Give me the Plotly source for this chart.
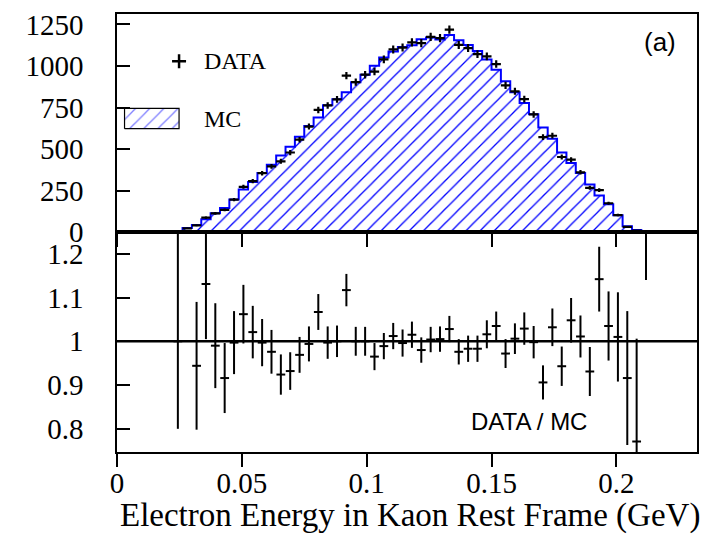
import numpy as np
import plotly.graph_objects as go

# ---------------- data ----------------
bin_width = 0.00375
first_bin = 6  # index of first filled bin (bins start at 0)

mc_counts = [8, 26, 44, 79, 115, 147, 198, 258, 302, 357,
             407, 462, 515, 575, 640, 690, 765, 800, 843, 903,
             948, 1002, 1052, 1087, 1115, 1125, 1161, 1171, 1160, 1186,
             1155, 1127, 1091, 1040, 978, 909, 843, 778, 710, 631,
             563, 480, 417, 357, 288, 222, 169, 103, 36, 14,
             5]

data_counts = [8, 24, 42, 89, 114, 135, 197, 274, 308, 356,
               397, 427, 480, 557, 636, 736, 763, 800, 942, 903,
               948, 967, 1040, 1100, 1111, 1142, 1138, 1176, 1168, 1219,
               1127, 1108, 1072, 1058, 1012, 884, 848, 801, 709, 572,
               581, 453, 437, 361, 268, 254, 175, 104, 33, 11,
               7]

data_err = [2, 3.5, 4.7, 6.8, 7.7, 8.4, 10, 12, 12.6, 13.6,
            14.3, 14.9, 15.8, 17, 18.2, 19.5, 19.9, 20.4, 22, 21.6,
            22.2, 22.4, 23.2, 23.9, 24, 24.5, 24.3, 24.7, 24.7, 25.1,
            24.2, 24, 23.6, 23.6, 22.9, 21.4, 21, 20.4, 19.2, 17.2,
            17.4, 15.3, 15, 13.7, 11.8, 11.5, 9.5, 7.3, 4.1, 2.4,
            1.9]

ratio = [1.0, None, 0.944, 1.131, 0.99, 0.916, 0.997, 1.062, 1.021, 0.997,
         0.976, 0.924, 0.932, 0.969, 0.994, 1.067, 0.997, 1.0, 1.117, 1.0,
         1.0, 0.965, 0.989, 1.012, 0.996, 1.015, 0.98, 1.004, 1.005, 1.028,
         0.976, 0.983, 0.983, 1.016, 1.035, 0.972, 1.006, 1.029, 0.998, 0.906,
         1.032, 0.943, 1.048, 1.011, 0.931, 1.142, 1.035, 1.010, 0.916, 0.771,
         1.35]

ratio_err_up = [0.30, 0, 0.146, 0.126, 0.097, 0.08, 0.072, 0.067, 0.06, 0.054,
                0.05, 0.046, 0.043, 0.041, 0.04, 0.041, 0.037, 0.036, 0.037, 0.033,
                0.033, 0.031, 0.03, 0.03, 0.031, 0.03, 0.029, 0.029, 0.029, 0.03,
                0.029, 0.03, 0.03, 0.032, 0.033, 0.033, 0.035, 0.037, 0.037, 0.039,
                0.043, 0.045, 0.051, 0.048, 0.056, 0.074, 0.079, 0.102, 0.153, 0.235,
                0.21]
ratio_err_down = [0.20] + ratio_err_up[1:]

x_tick_vals = [0, 0.05, 0.1, 0.15, 0.2]
top_tick_vals = [0, 250, 500, 750, 1000, 1250]
bot_tick_vals = [0.8, 0.9, 1.0, 1.1, 1.2]

x_title = "Electron Energy in Kaon Rest Frame (GeV)"

# ---------------- geometry helpers ----------------
n = len(mc_counts)
idx = np.arange(first_bin, first_bin + n)
centers = (idx + 0.5) * bin_width
left_edges = idx * bin_width
right_end = (first_bin + n) * bin_width

XMAX = 0.2323
SPLIT = 0.5015
BLUE = "#0000ff"
SERIF = "Liberation Serif"
SANS = "Liberation Sans"

fig = go.Figure()

# MC hatched histogram
fig.add_trace(go.Bar(
    x=centers, y=mc_counts, width=bin_width,
    marker=dict(color="white", line=dict(width=0),
                pattern=dict(shape="/", fgcolor=BLUE, bgcolor="white",
                             size=10, solidity=0.13, fillmode="replace")),
    xaxis="x", yaxis="y", showlegend=False, hoverinfo="skip"))

# MC outline (step)
step_x = np.concatenate([[left_edges[0]], left_edges, [right_end]])
step_y = np.concatenate([[0], mc_counts, [0]])
fig.add_trace(go.Scatter(
    x=step_x, y=step_y, mode="lines", line=dict(color=BLUE, width=2, shape="hv"),
    xaxis="x", yaxis="y", showlegend=False, hoverinfo="skip"))

# DATA crosses
fig.add_trace(go.Scatter(
    x=centers, y=data_counts, mode="markers",
    marker=dict(size=1, color="black"),
    error_y=dict(type="data", array=data_err, width=0, thickness=2.2, color="black"),
    error_x=dict(type="constant", value=bin_width * 0.5, width=0, thickness=2.2, color="black"),
    xaxis="x", yaxis="y", showlegend=False, hoverinfo="skip"))

# ratio crosses
fig.add_trace(go.Scatter(
    x=centers, y=ratio, mode="markers",
    marker=dict(size=1, color="black"),
    error_y=dict(type="data", array=ratio_err_up, arrayminus=ratio_err_down,
                 symmetric=False, width=0, thickness=2, color="black"),
    error_x=dict(type="constant", value=bin_width * 0.47, width=0, thickness=2, color="black"),
    xaxis="x2", yaxis="y2", showlegend=False, hoverinfo="skip"))

# legend glyphs on an invisible overlay frame covering the top panel
box_x = [0.013, 0.107, 0.107, 0.013, 0.013]
box_y = [0.475, 0.475, 0.568, 0.568, 0.475]
fig.add_trace(go.Scatter(
    x=box_x, y=box_y, mode="lines", fill="toself",
    fillcolor="white",
    fillpattern=dict(shape="/", fgcolor=BLUE, bgcolor="white", size=10, solidity=0.13),
    line=dict(color="black", width=1.2),
    xaxis="x3", yaxis="y3", showlegend=False, hoverinfo="skip"))
fig.add_trace(go.Scatter(
    x=[0.107], y=[0.784], mode="markers",
    marker=dict(symbol="cross-thin", size=10, line=dict(width=2.5, color="black")),
    xaxis="x3", yaxis="y3", showlegend=False, hoverinfo="skip"))

axis_common = dict(showgrid=False, zeroline=False, showline=True, linecolor="black",
                   linewidth=1.5, mirror=True, tickcolor="black", tickwidth=1.5,
                   ticklen=13)
tickfont = dict(family=SERIF, size=29, color="black")

fig.update_layout(
    width=710, height=537,
    margin=dict(l=117, r=13, t=9, b=85),
    paper_bgcolor="white", plot_bgcolor="rgba(0,0,0,0)",
    bargap=0,
    xaxis=dict(domain=[0, 1], anchor="y", range=[0, XMAX], tickvals=x_tick_vals,
               ticks="outside", showticklabels=False, **axis_common),
    yaxis=dict(domain=[SPLIT, 1], anchor="x", range=[0, 1313], tickvals=top_tick_vals,
               ticks="inside", tickfont=tickfont, ticklabelstandoff=26, **axis_common),
    xaxis2=dict(domain=[0, 1], anchor="y2", range=[0, XMAX], tickvals=x_tick_vals,
                ticktext=["0", "0.05", "0.1", "0.15", "0.2"],
                ticks="outside", tickfont=tickfont, ticklabelstandoff=-9, **axis_common),
    yaxis2=dict(domain=[0, SPLIT], anchor="x2", range=[0.747, 1.249], tickvals=bot_tick_vals,
                ticktext=["0.8", "0.9", "1", "1.1", "1.2"],
                ticks="inside", tickfont=tickfont, ticklabelstandoff=26, **axis_common),
    xaxis3=dict(domain=[0, 1], anchor="y3", range=[0, 1], visible=False, fixedrange=True),
    yaxis3=dict(domain=[SPLIT, 1], anchor="x3", range=[0, 1], visible=False, fixedrange=True),
    shapes=[
        dict(type="line", xref="x domain", yref="y", x0=0, x1=1, y0=0, y1=0,
             line=dict(color="black", width=2.5)),
        dict(type="line", xref="x2 domain", yref="y2", x0=0, x1=1, y0=1, y1=1,
             line=dict(color="black", width=2.5)),
    ],
    annotations=[
        dict(text="DATA", xref="x3", yref="y3", x=0.1466, y=0.784, xanchor="left",
             yanchor="middle", showarrow=False, font=dict(family=SERIF, size=24, color="black")),
        dict(text="MC", xref="x3", yref="y3", x=0.1466, y=0.521, xanchor="left",
             yanchor="middle", showarrow=False, font=dict(family=SERIF, size=24, color="black")),
        dict(text="(a)", xref="x3", yref="y3", x=0.936, y=0.872, xanchor="center",
             yanchor="middle", showarrow=False, font=dict(family=SANS, size=26, color="black")),
        dict(text="DATA / MC", xref="x2 domain", yref="y2 domain", x=0.710, y=0.14,
             xanchor="center", yanchor="middle", showarrow=False,
             font=dict(family=SANS, size=24, color="black")),
        dict(text=x_title, xref="paper", yref="paper", x=0.505, y=-0.145,
             xanchor="center", yanchor="middle", showarrow=False,
             font=dict(family=SERIF, size=33, color="black")),
    ],
)

fig.write_html("out.html")
